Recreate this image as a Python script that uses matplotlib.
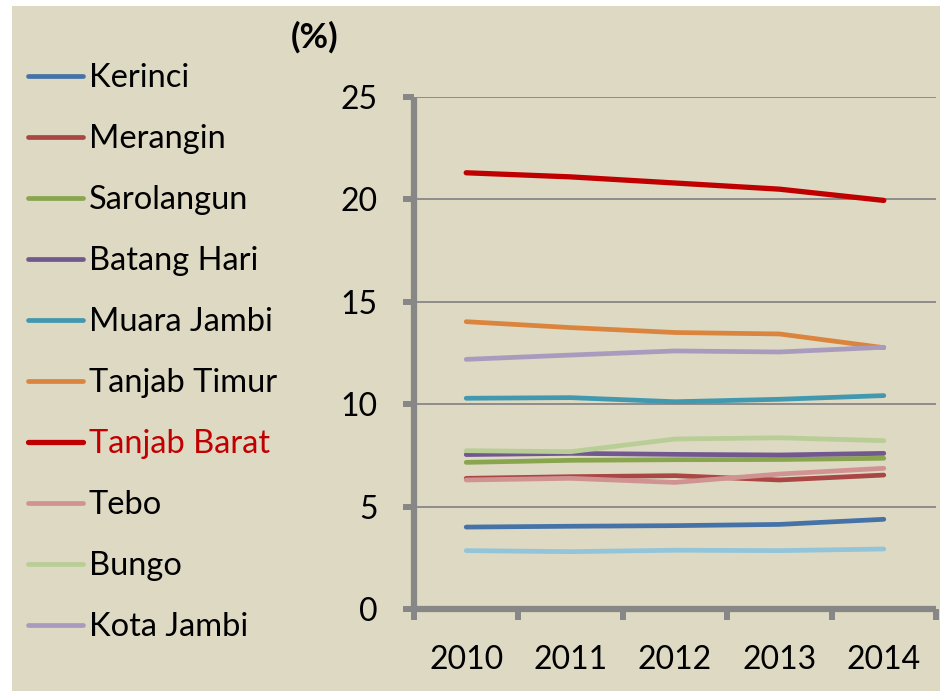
import matplotlib
matplotlib.use("Agg")
import matplotlib.pyplot as plt
from matplotlib.patches import Rectangle
import numpy as np

plt.rcParams['font.family'] = ['Lato', 'DejaVu Sans']

# data (%)
years = ['2010', '2011', '2012', '2013', '2014']
kerinci = [4.00, 4.04, 4.07, 4.13, 4.38]
merangin = [6.38, 6.46, 6.51, 6.30, 6.54]
sarolangun = [7.16, 7.26, 7.29, 7.30, 7.36]
batang_hari = [7.54, 7.60, 7.55, 7.52, 7.60]
muara_jambi = [10.29, 10.32, 10.12, 10.24, 10.42]
tanjab_timur = [14.03, 13.74, 13.50, 13.43, 12.76]
tanjab_barat = [21.30, 21.10, 20.80, 20.50, 19.95]
tebo = [6.30, 6.38, 6.18, 6.59, 6.87]
bungo = [7.73, 7.68, 8.30, 8.36, 8.22]
kota_jambi = [12.19, 12.40, 12.60, 12.55, 12.78]
sungai_penuh = [2.85, 2.80, 2.87, 2.85, 2.93]

series = [
    ('Kerinci', kerinci, '#4572A7'),
    ('Merangin', merangin, '#AA4643'),
    ('Sarolangun', sarolangun, '#89A54E'),
    ('Batang Hari', batang_hari, '#71588F'),
    ('Muara Jambi', muara_jambi, '#4198AF'),
    ('Tanjab Timur', tanjab_timur, '#DB843D'),
    ('Tanjab Barat', tanjab_barat, '#C00000'),
    ('Tebo', tebo, '#D19392'),
    ('Bungo', bungo, '#B9CD96'),
    ('Kota Jambi', kota_jambi, '#A99BBD'),
    ('Sungai Penuh', sungai_penuh, '#92C5DA'),
]

W, H = 940, 691
fig = plt.figure(figsize=(W / 100, H / 100), dpi=100, facecolor='white')
# beige panel
fig.patches.append(Rectangle((12 / W, 0), 1 - 12 / W, 1 - 6 / H,
                             transform=fig.transFigure, facecolor='#DDD9C3',
                             edgecolor='none', zorder=-10))

ax = fig.add_axes([414 / W, (H - 609) / H, (936 - 414) / W, (609 - 97) / H])
ax.set_facecolor('none')

x = np.arange(len(years))
handles = []
for name, vals, col in series:
    lw = 3.8 if name == 'Tanjab Barat' else 3.4
    line, = ax.plot(x, vals, color=col, lw=lw, solid_capstyle='round',
                    solid_joinstyle='round', zorder=3)
    handles.append(line)

axis_col = '#878787'
ax.set_xlim(-0.5, len(years) - 0.5)
ax.set_ylim(0, 25)
ax.set_yticks(np.arange(0, 26, 5))
ax.yaxis.grid(True, color=axis_col, lw=1.3)
ax.set_axisbelow(True)
for s in ['top', 'right']:
    ax.spines[s].set_visible(False)
for s in ['left', 'bottom']:
    ax.spines[s].set_color(axis_col)
    ax.spines[s].set_linewidth(4.5)
    ax.spines[s].set_capstyle('butt')

ax.set_xticks(np.arange(-0.5, len(years), 1.0))
ax.set_xticklabels([])
ax.set_xticks(x, minor=True)
ax.set_xticklabels(years, minor=True)
ax.tick_params(axis='x', which='major', length=8, width=4.3, color=axis_col, direction='out')
ax.tick_params(axis='x', which='minor', length=0, pad=26, labelsize=23)
ax.tick_params(axis='y', length=8, width=4.3, color=axis_col, direction='out',
               pad=18, labelsize=23)

leg = ax.legend(handles[:10], [s[0] for s in series[:10]], loc='upper left',
                bbox_to_anchor=(28 / W, 1 - 63 / H), bbox_transform=fig.transFigure,
                frameon=False, fontsize=23.5, handlelength=1.7, handletextpad=0.16,
                labelspacing=0.95, borderpad=0, borderaxespad=0)
for t in leg.get_texts():
    if t.get_text() == 'Tanjab Barat':
        t.set_color('#C00000')

fig.text(315 / W, 1 - 37 / H, '(%)', ha='center', va='center',
         fontsize=25, fontweight='bold')

fig.savefig('out.png', dpi=100)
